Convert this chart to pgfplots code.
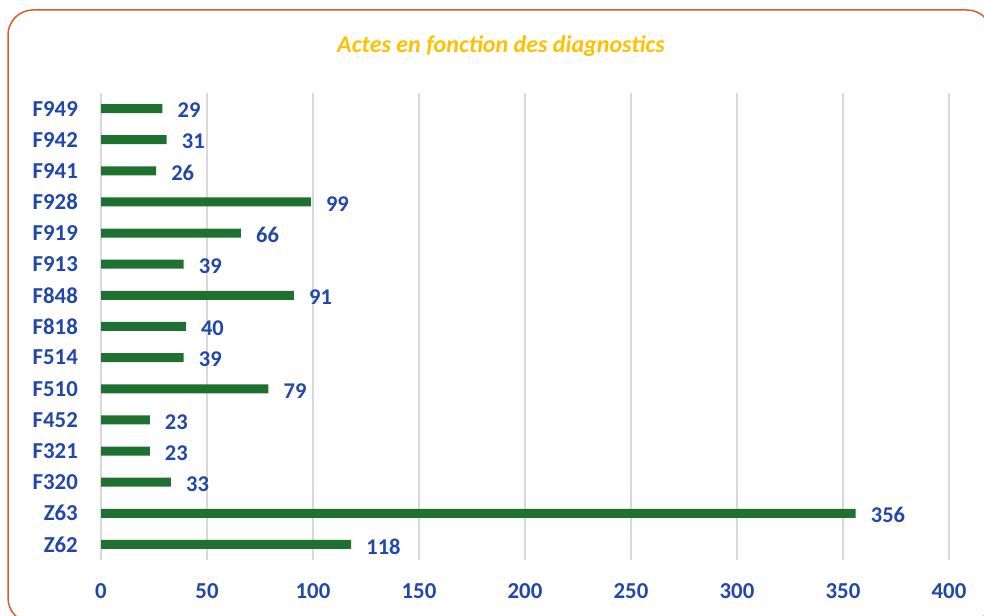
\documentclass[border=0pt]{standalone}
\usepackage{fontspec}
\setmainfont{Carlito}
\usepackage{pgfplots}
\pgfplotsset{compat=1.18}
\definecolor{barg}{HTML}{1E7130}
\definecolor{lblue}{HTML}{2148A8}
\definecolor{tyel}{HTML}{FFC000}
\definecolor{bord}{HTML}{E0592A}
\definecolor{gridc}{HTML}{D9D9D9}
\begin{document}
\begin{tikzpicture}[x=1pt,y=1pt]
\useasboundingbox (0,0) rectangle (984,615);
\begin{scope}
\clip (0,0) rectangle (984,615);
\draw[bord, line width=1.5pt, rounded corners=25pt] (8,-8) rectangle (992,605);
\end{scope}
\node[font=\fontsize{24}{28}\selectfont\bfseries\itshape, text=tyel] at (501,569) {Actes en fonction des diagnostics};
\begin{axis}[
  at={(101pt,55pt)}, anchor=south west,
  scale only axis, width=848pt, height=467pt,
  xmin=0, xmax=400, ymin=-0.5, ymax=14.5,
  xbar, bar width=9pt,
  /pgf/number format/assume math mode=true,
  xtick={0,50,...,400},
  ytick={0,...,14},
  yticklabels={Z62,Z63,F320,F321,F452,F510,F514,F818,F848,F913,F919,F928,F941,F942,F949},
  major tick length=0pt,
  axis line style={draw=none},
  xmajorgrids, grid style={gridc, line width=1.5pt},
  tick label style={font=\fontsize{22.8}{26}\selectfont\bfseries, text=lblue, inner sep=0pt},
  xticklabel style={yshift=-23pt},
  yticklabel style={xshift=-23pt},
  nodes near coords,
  nodes near coords style={font=\fontsize{22.5}{26}\selectfont\bfseries, text=lblue, anchor=west, inner sep=0pt, xshift=15pt, yshift=-2pt},
]
\addplot[fill=barg, draw=none] coordinates {
(118,0) (356,1) (33,2) (23,3) (23,4) (79,5) (39,6) (40,7) (91,8) (39,9) (66,10) (99,11) (26,12) (31,13) (29,14)
};
\end{axis}
\end{tikzpicture}
\end{document}
